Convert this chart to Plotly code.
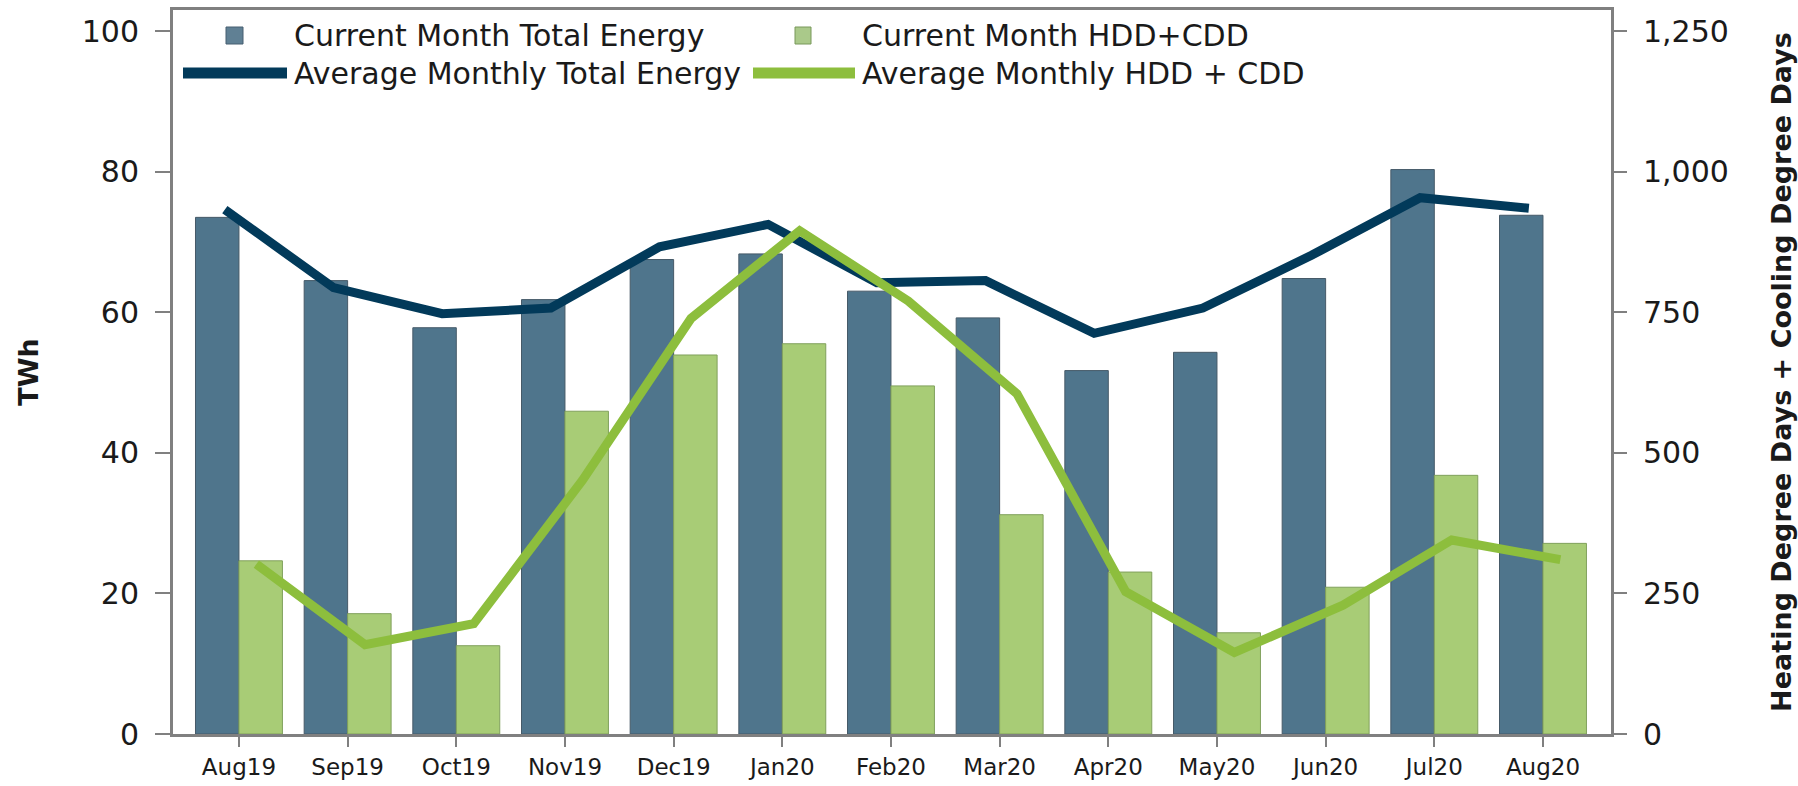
import plotly.graph_objects as go

# ---------------- data ----------------
months = ["Aug19", "Sep19", "Oct19", "Nov19", "Dec19", "Jan20", "Feb20",
          "Mar20", "Apr20", "May20", "Jun20", "Jul20", "Aug20"]
total_energy = [73.5, 64.5, 57.8, 61.8, 67.5, 68.3, 63.0, 59.2, 51.7, 54.3, 64.8, 80.3, 73.8]
hdd_cdd = [308, 214, 157, 574, 674, 694, 619, 390, 288, 180, 261, 460, 339]
avg_energy = [74.6, 63.5, 59.8, 60.6, 69.3, 72.5, 64.2, 64.5, 57.0, 60.6, 68.1, 76.3, 74.8]
avg_hdd_cdd = [302, 159, 196, 451, 739, 895, 770, 605, 253, 145, 229, 345, 310]

left_ticks = [0, 20, 40, 60, 80, 100]
right_ticks = [0, 250, 500, 750, 1000, 1250]

names = ["Current Month Total Energy", "Current Month HDD+CDD",
         "Average Monthly Total Energy", "Average Monthly HDD + CDD"]

# ---------------- style ----------------
W, H = 1798, 786
ML, MR, MT, MB = 173, 187, 10, 52
PW, PH = W - ML - MR, H - MT - MB
BLUE_BAR = "rgb(79,117,140)"
GREEN_BAR = "rgb(168,204,118)"
BLUE_LINE = "rgb(2,58,90)"
GREEN_LINE = "rgb(141,190,61)"
AXIS = "rgb(128,128,128)"
TXT = "rgb(26,26,26)"
FONT = "DejaVu Sans"

XR = [-0.607, 12.626]
BLUE_SHIFT = 0.13   # line drawn toward the blue bar side
GREEN_SHIFT = 0.16  # line drawn toward the green bar side

fig = go.Figure()
fig.add_trace(go.Bar(x=months, y=total_energy, name=names[0], yaxis="y", offsetgroup="1",
                     marker=dict(color=BLUE_BAR, line=dict(color="rgb(70,90,104)", width=1)),
                     showlegend=False))
fig.add_trace(go.Bar(x=months, y=hdd_cdd, name=names[1], yaxis="y2", offsetgroup="2",
                     marker=dict(color=GREEN_BAR, line=dict(color="rgb(128,160,92)", width=1)),
                     showlegend=False))
fig.add_trace(go.Scatter(x=months, y=avg_energy, name=names[2], xaxis="x2", yaxis="y",
                         mode="lines", line=dict(color=BLUE_LINE, width=9), showlegend=False))
fig.add_trace(go.Scatter(x=months, y=avg_hdd_cdd, name=names[3], xaxis="x3", yaxis="y2",
                         mode="lines", line=dict(color=GREEN_LINE, width=9), showlegend=False))

# ---------------- manual legend (pixel positions converted to paper) ----------------
def px(x):
    return (x - ML) / PW

def py(y):
    return (MT + PH - y) / PH

shapes = []
annotations = []
legend_rows = [
    ("sq", "rgb(96,128,148)", "rgb(70,95,112)", 226, 243, 292, 35.5),
    ("sq", "rgb(170,201,138)", "rgb(120,152,90)", 795, 811, 860, 35.5),
    ("ln", BLUE_LINE, None, 183, 287, 292, 73),
    ("ln", GREEN_LINE, None, 753, 855, 860, 73),
]
for (kind, col, bcol, x0, x1, tx, yc), nm in zip(legend_rows, names):
    if kind == "sq":
        shapes.append(dict(type="rect", xref="paper", yref="paper",
                           x0=px(x0), x1=px(x1), y0=py(yc + 8.5), y1=py(yc - 8.5),
                           fillcolor=col, line=dict(color=bcol, width=1)))
    else:
        shapes.append(dict(type="line", xref="paper", yref="paper",
                           x0=px(x0), x1=px(x1), y0=py(yc), y1=py(yc),
                           line=dict(color=col, width=11)))
    annotations.append(dict(text=nm, xref="paper", yref="paper", x=px(tx), y=py(yc),
                            xanchor="left", yanchor="middle", showarrow=False,
                            font=dict(family=FONT, size=30, color=TXT)))

fig.update_layout(
    width=W, height=H,
    margin=dict(l=ML, r=MR, t=MT, b=MB, autoexpand=False),
    paper_bgcolor="white", plot_bgcolor="white",
    barmode="group", bargap=0.2, bargroupgap=0.0,
    font=dict(family=FONT, color=TXT),
    shapes=shapes, annotations=annotations,
    xaxis=dict(type="category", range=XR, showgrid=False, zeroline=False,
               showline=True, linecolor=AXIS, linewidth=3, mirror=True,
               ticks="outside", ticklen=10, tickwidth=2, tickcolor=AXIS,
               ticklabelstandoff=0,
               tickfont=dict(family=FONT, size=23, color=TXT)),
    xaxis2=dict(type="category", overlaying="x", visible=False,
                range=[XR[0] + BLUE_SHIFT, XR[1] + BLUE_SHIFT]),
    xaxis3=dict(type="category", overlaying="x", visible=False,
                range=[XR[0] - GREEN_SHIFT, XR[1] - GREEN_SHIFT]),
    yaxis=dict(range=[0, 103], tickvals=left_ticks, showgrid=False, zeroline=False,
               showline=True, linecolor=AXIS, linewidth=3,
               ticks="outside", ticklen=15, tickwidth=2, tickcolor=AXIS,
               ticklabelstandoff=10,
               tickfont=dict(family=FONT, size=30, color=TXT),
               title=dict(text="TWh", standoff=36,
                          font=dict(family=FONT, size=27, color=TXT, weight="bold"))),
    yaxis2=dict(range=[0, 1287.5], tickvals=right_ticks, tickformat=",", side="right",
                overlaying="y", anchor="x", showgrid=False, zeroline=False,
                showline=True, linecolor=AXIS, linewidth=3,
                ticks="outside", ticklen=13, tickwidth=2, tickcolor=AXIS,
                ticklabelstandoff=10,
                tickfont=dict(family=FONT, size=30, color=TXT),
                title=dict(text="Heating Degree Days + Cooling Degree Days", standoff=45,
                           font=dict(family=FONT, size=27, color=TXT, weight="bold"))),
)

fig.write_html("out.html", config={"displayModeBar": False},
               post_script="document.body.style.margin='0';")
